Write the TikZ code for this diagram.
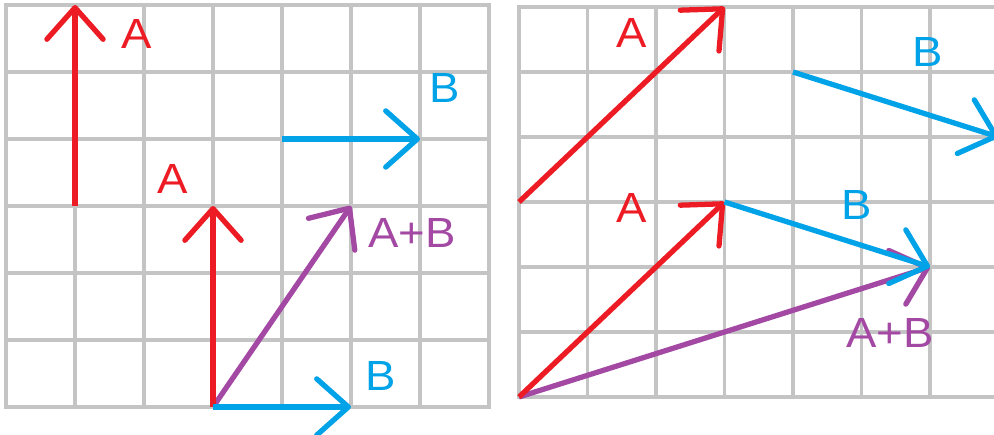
\documentclass[tikz,border=0pt]{standalone}
\usepackage{fontspec}
\setmainfont{Liberation Sans}
\usepackage{xcolor}
\usetikzlibrary{arrows.meta}

\definecolor{paintred}{RGB}{237,28,36}
\definecolor{paintblue}{RGB}{0,162,232}
\definecolor{paintpurple}{RGB}{163,73,164}
\definecolor{gridgray}{RGB}{196,196,196}

\tikzset{
  gridline/.style={gridgray, line width=2.2pt, line cap=rect},
  vec/.style={line width=3pt, -{Straight Barb[length=18pt, width=32pt, round]}},
  lbl/.style={font=\fontsize{24}{28}\selectfont, inner sep=0pt, xscale=1.08}
}

\begin{document}
\begin{tikzpicture}
    \fill[white] (0,0) rectangle (19.88,8.70);
    \useasboundingbox (0,0) rectangle (19.88,8.70);

    % Left panel: A and B placed tail to tail
    \begin{scope}[shift={(0.12cm,0.56cm)}, x=1.38cm, y=1.34cm]
        \draw[gridline, step=1] (0,0) grid (7,6);

        % End points
        \coordinate (la1s) at (1,3);
        \coordinate (la1e) at (1,6);
        \coordinate (lb1s) at (4,4);
        \coordinate (lb1e) at (6,4);
        \coordinate (lo)   at (3,0);
        \coordinate (la2e) at (3,3);
        \coordinate (lb2e) at (5,0);
        \coordinate (lse)  at (5,3);

        % Vectors
        \draw[vec, paintred] (la1s) -- (la1e);
        \draw[vec, paintblue] (lb1s) -- (lb1e);
        \draw[vec, paintpurple] (lo) -- (lse);
        \draw[vec, paintred] (lo) -- (la2e);
        \draw[vec, paintblue] (lo) -- (lb2e);

        % Labels
        \node[lbl, paintred] (la1) at (1.90,5.57) {A};
        \node[lbl, paintblue] (lb1) at (6.36,4.76) {B};
        \node[lbl, paintred] (la2) at (2.41,3.40) {A};
        \node[lbl, paintpurple] (lsum) at (5.88,2.60) {A+B};
        \node[lbl, paintblue] (lb2) at (5.43,0.46) {B};
    \end{scope}

    % Right panel: A and B placed head to tail
    \begin{scope}[shift={(10.38cm,0.76cm)}, x=1.37cm, y=1.30cm]
        \draw[gridline, step=1] (0,0) grid (7,6);

        % End points
        \coordinate (ra1s) at (0,3);
        \coordinate (ra1e) at (3,6);
        \coordinate (rb1s) at (4,5);
        \coordinate (rb1e) at (7,4);
        \coordinate (ro)   at (0,0);
        \coordinate (rm)   at (3,3);
        \coordinate (rse)  at (6,2);

        % Vectors
        \draw[vec, paintred] (ra1s) -- (ra1e);
        \draw[vec, paintblue] (rb1s) -- (rb1e);
        \draw[vec, paintpurple] (ro) -- (rse);
        \draw[vec, paintred] (ro) -- (rm);
        \draw[vec, paintblue] (rm) -- (rse);

        % Labels
        \node[lbl, paintred] (ra1) at (1.65,5.60) {A};
        \node[lbl, paintblue] (rb1) at (5.97,5.31) {B};
        \node[lbl, paintred] (ra2) at (1.65,2.91) {A};
        \node[lbl, paintblue] (rb2) at (4.93,2.95) {B};
        \node[lbl, paintpurple] (rsum) at (5.42,0.98) {A+B};
    \end{scope}
\end{tikzpicture}
\end{document}
